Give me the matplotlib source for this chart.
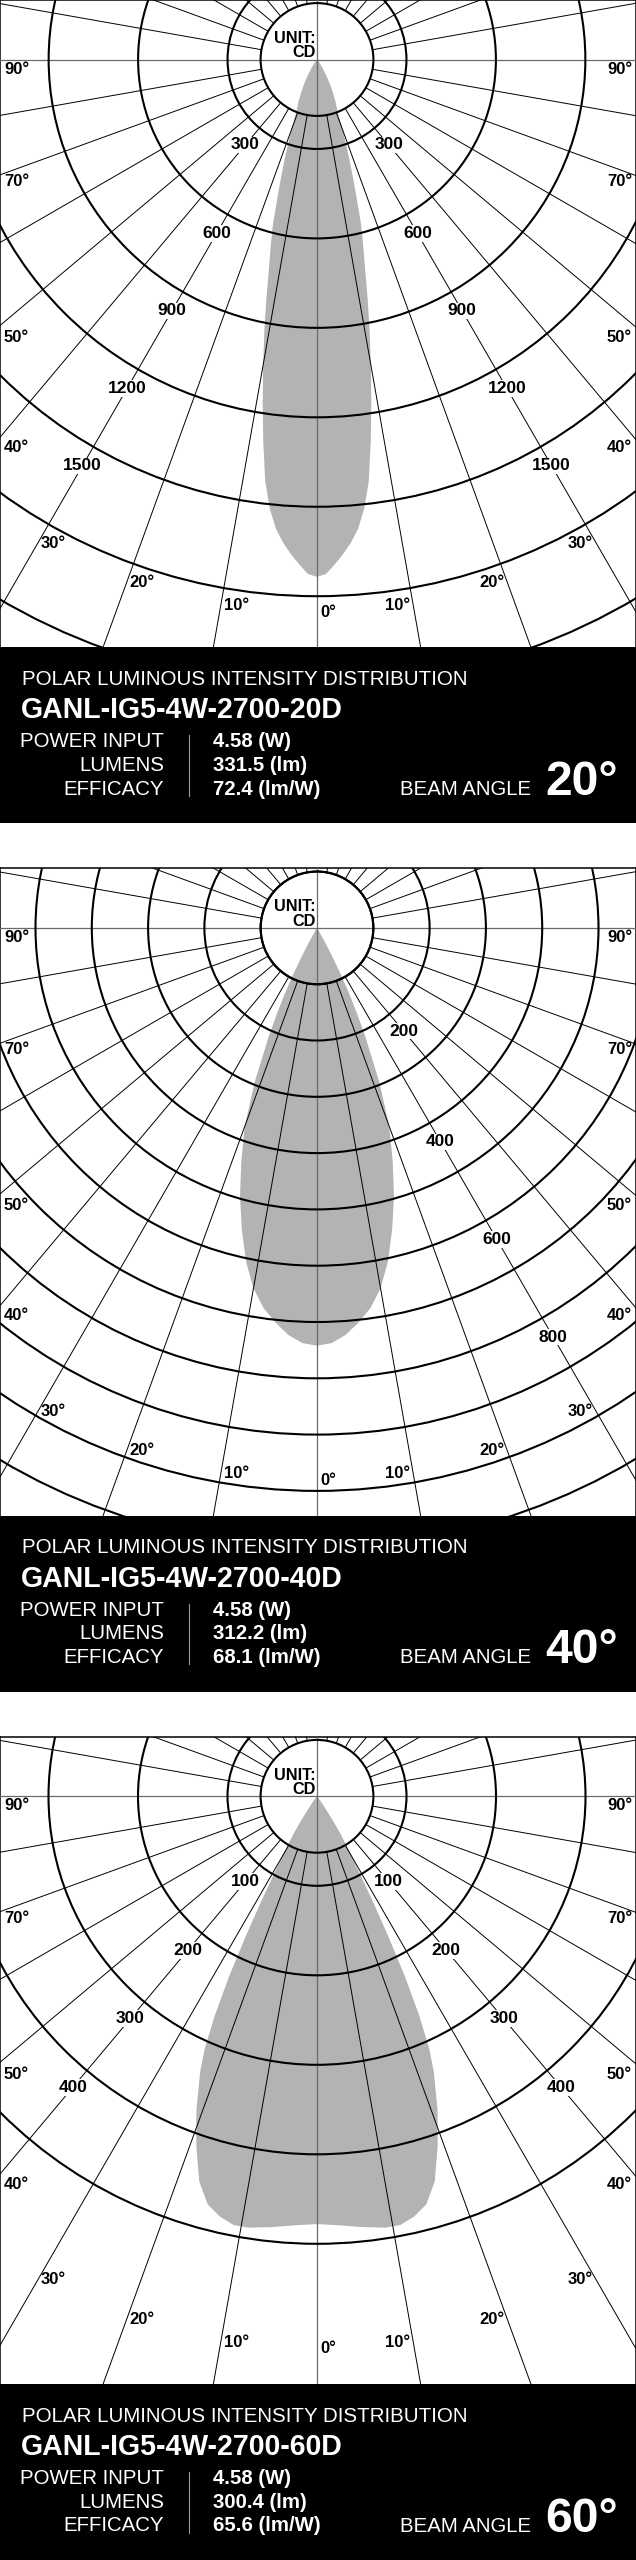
import numpy as np
import matplotlib
matplotlib.use("Agg")
import matplotlib.pyplot as plt
from matplotlib.patches import Circle, Rectangle

plt.rcParams['font.family'] = ['Liberation Sans', 'DejaVu Sans']

# ---------------- data ----------------
model_names = ["GANL-IG5-4W-2700-20D", "GANL-IG5-4W-2700-40D", "GANL-IG5-4W-2700-60D"]
power_input_w = [4.58, 4.58, 4.58]
lumens_lm = [331.5, 312.2, 300.4]
efficacy_lm_w = [72.4, 68.1, 65.6]
beam_angle_deg = [20, 40, 60]

ring_step_cd = [300, 100, 100]
ring_max_cd = [2100, 1100, 500]

ring_labels_20d = [300, 600, 900, 1200, 1500]
ring_labels_40d = [200, 400, 600, 800]
ring_labels_60d = [100, 200, 300, 400]
ring_label_angle_20d = [40, 30, 30, 30, 30]
ring_label_angle_40d = [40, 30, 30, 30]
ring_label_angle_60d = [40, 40, 40, 40]
ring_label_sides = [(-1, 1), (1,), (-1, 1)]

edge_angle_labels = [90, 70, 50, 40]
bottom_angle_labels = [30, 20, 10]

gamma_20d = [0, 1, 2, 3, 4, 5, 6, 7, 8, 9, 10, 11, 12, 13, 14, 15, 16, 17, 18, 19,
             20, 21, 22, 24, 26, 28, 30, 33, 36, 40, 45, 50]
cd_20d = [1735, 1726, 1695, 1662, 1625, 1580, 1515, 1425, 1295, 1165, 1040, 925, 815,
          715, 640, 570, 480, 410, 350, 295, 255, 205, 180, 150, 118, 90, 62, 35, 18,
          8, 3, 0]

gamma_40d = [0, 2, 4, 6, 8, 10, 12, 14, 16, 18, 20, 22, 24, 25, 26, 27, 28, 29, 30, 32, 35]
cd_40d = [742, 738, 725, 705, 682, 650, 606, 552, 496, 435, 375, 296, 210, 170, 133,
          98, 62, 32, 14, 5, 0]

gamma_60d = [0, 3, 6, 9, 11, 13, 15, 17, 19, 21, 23, 24, 25, 26, 27, 28, 29, 30, 31,
             32, 33, 34, 36, 40, 45]
cd_60d = [478, 480, 484, 488, 488, 482, 472, 450, 414, 376, 334, 308, 270, 225, 175,
          132, 98, 78, 62, 50, 35, 22, 10, 3, 0]

# ---------------- layout / style ----------------
W, H, DPI = 636, 2560, 100
PANEL_TOPS = [0.0, 868.4, 1736.8]
CHART_H = 647.3
BOX_H = 176.0
CX = 317.0
CY = 59.5
PX_PER_CD = [89.45 / 300, 56.3 / 100, 89.5 / 100]
HUB_PX = 56.4
GRAY = '#b3b3b3'
AXIS_GRAY = '#6a6a6a'
PT = 72.0 / DPI  # px -> pt

fig = plt.figure(figsize=(W / DPI, H / DPI), dpi=DPI)
fig.patch.set_facecolor('white')


def draw_chart(i, top, gam, cd, labels, label_angles, sides):
    s = PX_PER_CD[i]
    ax = fig.add_axes([0, 1 - (top + CHART_H) / H, 1, CHART_H / H])
    ax.set_xlim(-CX / s, (W - CX) / s)
    ax.set_ylim(-(CHART_H - CY) / s, CY / s)
    ax.set_xticks([])
    ax.set_yticks([])
    ax.set_facecolor('white')
    for sp in ax.spines.values():
        sp.set_linewidth(1.1)
        sp.set_color('black')
    ax.spines['bottom'].set_visible(False)

    # light distribution
    gam = np.asarray(gam, float)
    cd = np.asarray(cd, float)
    g = np.radians(np.concatenate([-gam[::-1], gam[1:]]))
    v = np.concatenate([cd[::-1], cd[1:]])
    ax.fill(v * np.sin(g), -v * np.cos(g), color=GRAY, lw=0, zorder=2)

    r_hub = HUB_PX / s
    r_far = 1000 / s
    for a in range(10, 180, 10):
        if a == 90:
            continue
        t = np.radians(a)
        for sg in (-1, 1):
            ax.plot([sg * r_hub * np.sin(t), sg * r_far * np.sin(t)],
                    [-r_hub * np.cos(t), -r_far * np.cos(t)],
                    color='black', lw=0.7, zorder=3, solid_capstyle='butt')
    ax.axhline(0, color=AXIS_GRAY, lw=0.9, zorder=3)
    ax.axvline(0, color=AXIS_GRAY, lw=0.9, zorder=3)

    for rv in np.arange(ring_step_cd[i], ring_max_cd[i] + 1, ring_step_cd[i]):
        ax.add_patch(Circle((0, 0), rv, fill=False, ec='black', lw=1.5, zorder=4))
    ax.add_patch(Circle((0, 0), r_hub, fill=False, ec='black', lw=1.5, zorder=4))

    # ring value labels
    for val, ang in zip(labels, label_angles):
        rr = val + 22 / s
        t = np.radians(ang)
        for sg in sides:
            ax.text(sg * rr * np.sin(t), -rr * np.cos(t), str(val), ha='center',
                    va='center', fontsize=12.5, fontweight='bold', zorder=6,
                    bbox=dict(facecolor='white', edgecolor='none', pad=0.6))

    # angle labels at the side edges
    edge_dy = {90: 9.7, 70: 122.0, 50: 278.0, 40: 388.0}
    for a in edge_angle_labels:
        y = -edge_dy[a] / s
        ax.text((-CX + 4) / s, y, f"{a}\u00b0", ha='left', va='center',
                fontsize=12, fontweight='bold', zorder=6)
        ax.text((W - CX - 4) / s, y, f"{a}\u00b0", ha='right', va='center',
                fontsize=12, fontweight='bold', zorder=6)
    # angle labels along the bottom
    bottom_dy = {30: 483.5, 20: 523.0, 10: 546.0}
    for a in bottom_angle_labels:
        dy = bottom_dy[a]
        dx = dy * np.tan(np.radians(a))
        ax.text((-dx + 3) / s, -dy / s, f"{a}\u00b0", ha='left', va='center',
                fontsize=12, fontweight='bold', zorder=6)
        ax.text((dx - 3) / s, -dy / s, f"{a}\u00b0", ha='right', va='center',
                fontsize=12, fontweight='bold', zorder=6)
    ax.text(3 / s, -552.6 / s, "0\u00b0", ha='left', va='center',
            fontsize=12, fontweight='bold', zorder=6)

    # hub caption
    ax.text(-1.5 / s, 16.8 / s, "UNIT:", ha='right', va='baseline',
            fontsize=11.7, fontweight='bold', zorder=6)
    ax.text(-1.5 / s, 2.2 / s, "CD", ha='right', va='baseline',
            fontsize=11.7, fontweight='bold', zorder=6)


def draw_box(i, top):
    y0 = top + CHART_H
    bx = fig.add_axes([0, 1 - (y0 + BOX_H) / H, 1, BOX_H / H])
    bx.set_xlim(0, W)
    bx.set_ylim(BOX_H, 0)
    bx.set_axis_off()
    bx.add_patch(Rectangle((0, 0), W, BOX_H, color='black', zorder=0))
    fs_small = 20.4 * PT
    bx.text(22, 37.7, "POLAR LUMINOUS INTENSITY DISTRIBUTION", color='white',
            fontsize=20.5 * PT, ha='left', va='baseline')
    bx.text(20.5, 71.0, model_names[i], color='white', fontsize=28.5 * PT,
            fontweight='bold', ha='left', va='baseline')
    rows = [("POWER INPUT", f"{power_input_w[i]:.2f} (W)"),
            ("LUMENS", f"{lumens_lm[i]:.1f} (lm)"),
            ("EFFICACY", f"{efficacy_lm_w[i]:.1f} (lm/W)")]
    for k, (lab, val) in enumerate(rows):
        yb = 100.0 + 23.65 * k
        bx.text(164, yb, lab, color='white', fontsize=fs_small, ha='right', va='baseline')
        bx.text(213, yb, val, color='white', fontsize=fs_small, fontweight='bold',
                ha='left', va='baseline')
    bx.plot([188.6, 188.6], [88, 148.5], color='#9a9a9a', lw=0.8)
    bx.text(399.6, 147.5, "BEAM ANGLE", color='white', fontsize=fs_small,
            ha='left', va='baseline')
    bx.text(545.0, 147.7, f"{beam_angle_deg[i]}\u00b0", color='white',
            fontsize=48 * PT, fontweight='bold', ha='left', va='baseline')


panels = [
    (gamma_20d, cd_20d, ring_labels_20d, ring_label_angle_20d),
    (gamma_40d, cd_40d, ring_labels_40d, ring_label_angle_40d),
    (gamma_60d, cd_60d, ring_labels_60d, ring_label_angle_60d),
]
for i, (gam, cd, labs, angs) in enumerate(panels):
    draw_chart(i, PANEL_TOPS[i], gam, cd, labs, angs, ring_label_sides[i])
    draw_box(i, PANEL_TOPS[i])

fig.savefig("out.png", dpi=DPI, facecolor='white')
